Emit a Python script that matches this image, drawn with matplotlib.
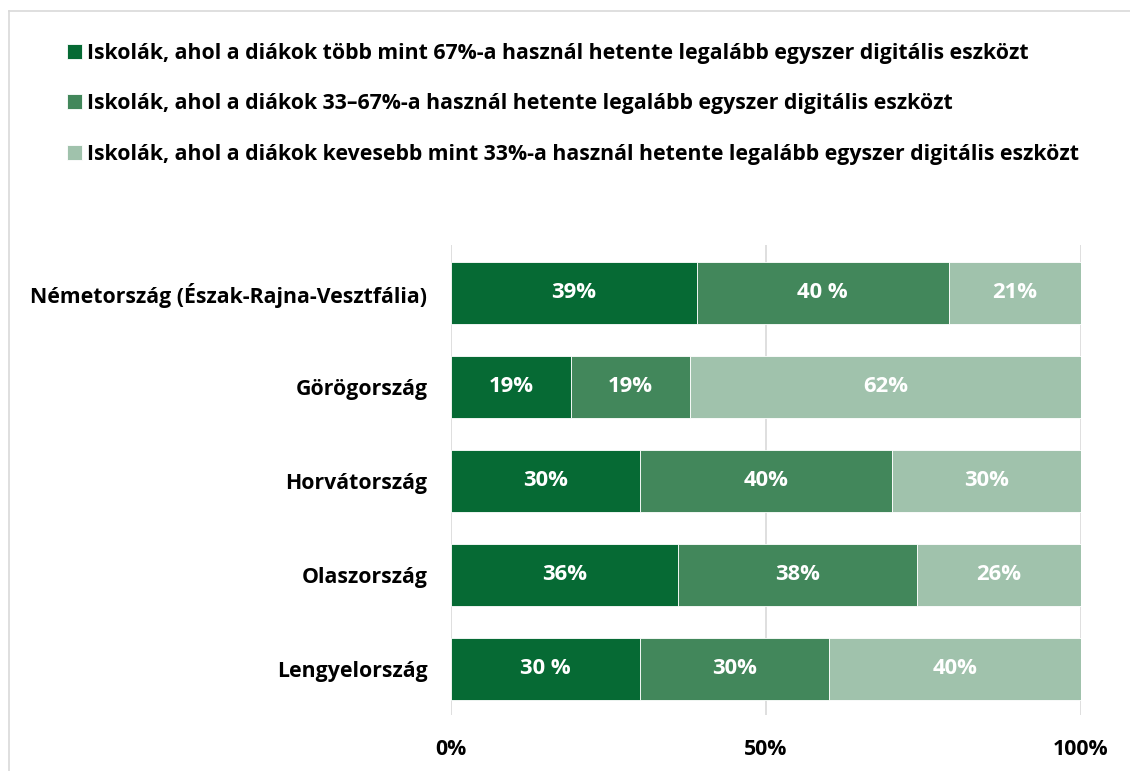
import matplotlib
matplotlib.use('Agg')
import matplotlib.pyplot as plt
import numpy as np

plt.rcParams['font.family'] = ['Open Sans', 'DejaVu Sans']
plt.rcParams['font.weight'] = 'bold'

countries = ['Németország (Észak-Rajna-Vesztfália)', 'Görögország', 'Horvátország',
             'Olaszország', 'Lengyelország']
high = [39, 19, 30, 36, 30]
mid = [40, 19, 40, 38, 30]
low = [21, 62, 30, 26, 40]
high_lbl = ['39%', '19%', '30%', '36%', '30 %']
mid_lbl = ['40 %', '19%', '40%', '38%', '30%']
low_lbl = ['21%', '62%', '30%', '26%', '40%']
series_names = [
    'Iskolák, ahol a diákok több mint 67%-a használ hetente legalább egyszer digitális eszközt',
    'Iskolák, ahol a diákok 33–67%-a használ hetente legalább egyszer digitális eszközt',
    'Iskolák, ahol a diákok kevesebb mint 33%-a használ hetente legalább egyszer digitális eszközt',
]
colors = ['#066a34', '#42875b', '#a0c2ac']
xticks = [0, 50, 100]
xticklabels = ['0%', '50%', '100%']

fs = 15.3

fig = plt.figure(figsize=(11.3, 7.71), dpi=100)
ax = fig.add_axes([451 / 1130, 1 - 715 / 771, 630 / 1130, 470 / 771])

y = np.arange(len(countries))
left = np.zeros(len(countries))
handles = []
for vals, lbls, col, name in zip([high, mid, low], [high_lbl, mid_lbl, low_lbl], colors, series_names):
    vals = np.array(vals, dtype=float)
    bars = ax.barh(y, vals, left=left, height=0.66, color=col, edgecolor='white',
                   linewidth=0.6, label=name, zorder=3)
    ax.bar_label(bars, labels=lbls, label_type='center', color='white',
                 fontsize=fs + 0.5, fontweight='bold')
    handles.append(bars)
    left += vals

ax.set_xlim(0, 100)
ax.set_ylim(4.49, -0.51)
ax.set_xticks(xticks)
ax.set_xticklabels(xticklabels, fontweight='bold')
ax.set_yticks(y)
ax.set_yticklabels(countries, fontweight='bold')
ax.tick_params(axis='x', length=0, pad=17, labelsize=fs)
ax.tick_params(axis='y', length=0, pad=17, labelsize=fs)
ax.grid(axis='x', color='#d9d9d9', linewidth=1.2, zorder=0)
for s in ax.spines.values():
    s.set_visible(False)

leg = fig.legend(handles=handles, loc='upper left', bbox_to_anchor=(67 / 1130, 1 - 43 / 771),
                 frameon=False, handlelength=0.7, handleheight=0.7,
                 handletextpad=0.25, labelspacing=1.38, borderaxespad=0, borderpad=0,
                 prop={'weight': 'bold', 'size': fs})

# light frame around the chart area
fig.add_artist(plt.Line2D([9 / 1130, 9 / 1130], [0, 1 - 11 / 771], color='#d9d9d9', lw=1.2))
fig.add_artist(plt.Line2D([9 / 1130, 1], [1 - 11 / 771, 1 - 11 / 771], color='#d9d9d9', lw=1.2))

plt.savefig('out.png', dpi=100)
